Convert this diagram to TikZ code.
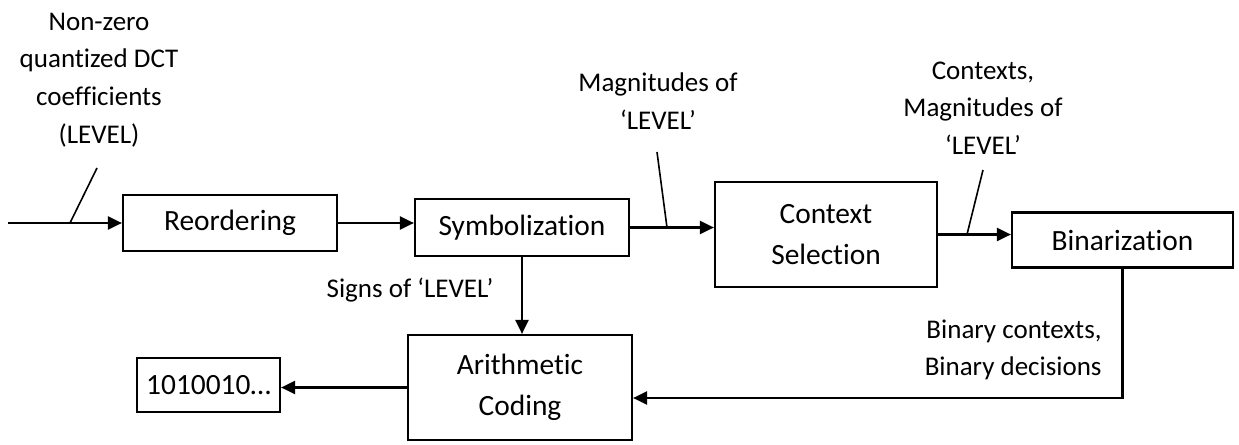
\documentclass[tikz,border=0pt]{standalone}
\usepackage{fontspec}
\setmainfont{Carlito}[Ligatures=NoCommon]
\usetikzlibrary{arrows.meta}

\tikzset{
  blockbox/.style={draw, line width=1.1pt, inner sep=0pt, align=center,
    font=\fontsize{14.7pt}{20.5pt}\selectfont},
  lbl/.style={inner sep=0pt, align=center,
    font=\fontsize{13.5pt}{18.8pt}\selectfont},
  flow/.style={line width=1.1pt, -{Triangle[length=7pt,width=6.5pt]}},
  tick/.style={line width=0.8pt}
}

\begin{document}
\begin{tikzpicture}[x=0.5pt, y=-0.5pt]
  \useasboundingbox (0,0) rectangle (1239,445);

  % processing blocks
  \node[blockbox, minimum width=107pt, minimum height=28pt]   (reord) at (230,223)    {Reordering};
  \node[blockbox, minimum width=107pt, minimum height=28.5pt] (symb)  at (522,227.5)  {Symbolization};
  \node[blockbox, minimum width=111pt, minimum height=52.5pt] (cs)    at (826,234.5)  {Context\\Selection};
  \node[blockbox, minimum width=110.5pt, minimum height=27.5pt] (bin) at (1122.5,240) {Binarization};
  \node[blockbox, minimum width=112pt, minimum height=52.5pt] (ac)    at (520,387.5)  {Arithmetic\\Coding};
  \node[blockbox, minimum width=71.5pt, minimum height=27pt]  (outb)  at (208.5,385)  {1010010…};

  % labels
  \node[lbl] (inlbl)  at (99,80)   {Non-zero\\quantized DCT\\coefficients\\(LEVEL)};
  \node[lbl] (maglbl) at (658,101) {Magnitudes of\\‘LEVEL’};
  \node[lbl] (ctxlbl) at (983,108) {Contexts,\\Magnitudes of\\‘LEVEL’};
  \node[lbl] (sgnlbl) at (410,290) {Signs of ‘LEVEL’};
  \node[lbl, align=right, anchor=east] (binlbl) at (1102,350) {Binary contexts,\\Binary decisions};

  % input
  \coordinate (in) at (8,223);
  \draw[flow] (in) -- (reord.west);
  \coordinate (t1a) at (70,223);
  \coordinate (t1b) at (97,168);
  \draw[tick] (t1a) -- (t1b);

  % main chain
  \draw[flow] (reord.east) -- (reord.east -| symb.west);
  \draw[flow] (symb.east) -- (symb.east -| cs.west);
  \coordinate (t2a) at (667,227.5);
  \coordinate (t2b) at (657,152);
  \draw[tick] (t2a) -- (t2b);

  \draw[flow] (cs.east) -- (cs.east -| bin.west);
  \coordinate (t3a) at (967,234.5);
  \coordinate (t3b) at (983,170);
  \draw[tick] (t3a) -- (t3b);

  % signs to the coder
  \draw[flow] (symb.south) -- (symb.south |- ac.north);

  % binary decisions back to the coder
  \coordinate (corner) at (1122.5,398);
  \draw[flow] (bin.south) -- (corner) -- (corner -| ac.east);

  % output bitstream
  \draw[flow] (ac.west) -- (ac.west -| outb.east);
\end{tikzpicture}
\end{document}
